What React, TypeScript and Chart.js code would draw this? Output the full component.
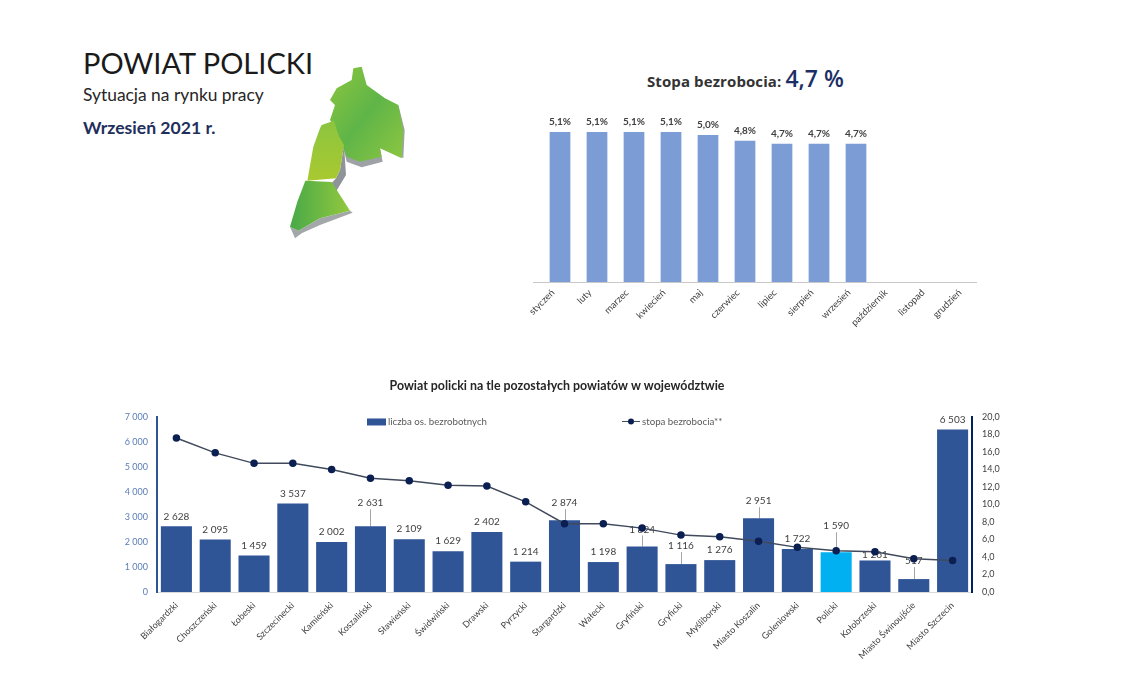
import React, { useEffect, useRef } from "react";
import { Chart, registerables } from "chart.js";

Chart.register(...registerables);

const months = ["styczeń", "luty", "marzec", "kwiecień", "maj", "czerwiec", "lipiec", "sierpień", "wrzesień", "październik", "listopad", "grudzień"];
const monthlyRate = [5.1, 5.1, 5.1, 5.1, 5.0, 4.8, 4.7, 4.7, 4.7, null, null, null];

const counties = ["Białogardzki", "Choszczeński", "Łobeski", "Szczecinecki", "Kamieński", "Koszaliński", "Sławieński", "Świdwiński", "Drawski", "Pyrzycki", "Stargardzki", "Wałecki", "Gryfiński", "Gryficki", "Myśliborski", "Miasto Koszalin", "Goleniowski", "Policki", "Kołobrzeski", "Miasto Świnoujście", "Miasto Szczecin"];
const unemployed = [2628, 2095, 1459, 3537, 2002, 2631, 2109, 1629, 2402, 1214, 2874, 1198, 1824, 1116, 1276, 2951, 1722, 1590, 1261, 517, 6503];
const rates = [17.6, 15.9, 14.7, 14.7, 14.0, 13.0, 12.7, 12.2, 12.1, 10.3, 7.8, 7.8, 7.3, 6.5, 6.3, 5.8, 5.1, 4.7, 4.6, 3.8, 3.6];
const highlighted = "Policki";
const leaderLift: Record<string, number> = {
  "Koszaliński": 23, "Stargardzki": 17, "Gryfiński": 17, "Gryficki": 18,
  "Miasto Koszalin": 17, "Policki": 26, "Miasto Świnoujście": 18, "Kołobrzeski": 6,
};
const noLeader = ["Kołobrzeski"];
const seriesBar = "liczba os. bezrobotnych";
const seriesLine = "stopa bezrobocia**";

const FONT = "Lato, sans-serif";
const thousands = (v: number) => String(v).replace(/\B(?=(\d{3})+$)/g, " ");
const decimal = (v: number) => v.toFixed(1).replace(".", ",");

const rateLabels = {
  id: "rateLabels",
  afterDatasetsDraw(chart: any) {
    const { ctx, scales } = chart;
    ctx.save();
    ctx.font = `bold 10px ${FONT}`;
    ctx.fillStyle = "#404040";
    ctx.textAlign = "center";
    ctx.textBaseline = "middle";
    monthlyRate.forEach((v, i) => {
      if (v == null) return;
      ctx.fillText(decimal(v) + "%", scales.x.getPixelForValue(i), scales.y.getPixelForValue(v) - 10);
    });
    const y = scales.y.bottom + 0.5;
    ctx.strokeStyle = "#c9c9c9";
    ctx.lineWidth = 1;
    ctx.beginPath();
    ctx.moveTo(scales.x.left - 8.5, y);
    ctx.lineTo(scales.x.right - 8.5, y);
    ctx.stroke();
    ctx.restore();
  },
};

const countyLabels = {
  id: "countyLabels",
  beforeDatasetsDraw(chart: any) {
    const { ctx, scales } = chart;
    ctx.save();
    ctx.textAlign = "center";
    ctx.textBaseline = "middle";
    ctx.font = `10px ${FONT}`;
    unemployed.forEach((v, i) => {
      const x = scales.x.getPixelForValue(i);
      const top = scales.y.getPixelForValue(v);
      const lift = leaderLift[counties[i]];
      if (lift && !noLeader.includes(counties[i])) {
        ctx.strokeStyle = "#a6a6a6";
        ctx.lineWidth = 1;
        ctx.beginPath();
        ctx.moveTo(Math.round(x) + 0.5, top - lift + 6);
        ctx.lineTo(Math.round(x) + 0.5, top);
        ctx.stroke();
      }
      ctx.fillStyle = "#404040";
      ctx.fillText(thousands(v), x, top - (lift || 10));
    });
    ctx.restore();
  },
  afterDraw(chart: any) {
    const { ctx, chartArea } = chart;
    const [line, bar] = chart.data.datasets;
    const y = chartArea.top + 4.5;
    ctx.save();
    ctx.font = `9.7px ${FONT}`;
    ctx.textBaseline = "middle";
    ctx.fillStyle = "#2f5597";
    ctx.fillRect(chartArea.left + 210, y - 3, 19, 7);
    ctx.fillStyle = "#595959";
    ctx.fillText(bar.label, chartArea.left + 231, y);
    ctx.strokeStyle = line.borderColor;
    ctx.lineWidth = 1;
    ctx.beginPath();
    ctx.moveTo(chartArea.left + 465, y);
    ctx.lineTo(chartArea.left + 483, y);
    ctx.stroke();
    ctx.fillStyle = line.pointBackgroundColor;
    ctx.beginPath();
    ctx.arc(chartArea.left + 474, y, 3, 0, Math.PI * 2);
    ctx.fill();
    ctx.fillStyle = "#595959";
    ctx.fillText(line.label, chartArea.left + 485, y);
    ctx.restore();
  },
};

const noPad = (h: number) => (s: any) => {
  s.height = h;
  s.paddingLeft = 0;
  s.paddingRight = 0;
};

function useChart(make: (c: HTMLCanvasElement) => Chart) {
  const ref = useRef<HTMLCanvasElement>(null);
  useEffect(() => {
    const chart = make(ref.current!);
    return () => chart.destroy();
  }, []);
  return ref;
}

const abs = (left: number, top: number, extra: React.CSSProperties = {}): React.CSSProperties => ({
  position: "absolute", left, top, whiteSpace: "nowrap", lineHeight: 1, ...extra,
});

function CountyMap() {
  const upper = "880,115 905,110 920,165 975,205 1015,225 1030,300 1025,385 960,355 965,380 900,395 860,380 845,340 820,285 810,270 825,225 810,210 830,175 875,150";
  const middle = "785,285 822,272 835,315 852,345 840,420 828,445 742,452 760,350 780,295";
  const lower = "736,452 815,456 870,542 780,565 715,602 690,590 712,515";
  const sideUpper = "1015,225 1034,300 1030,385 1000,365 960,355 968,395 905,412 860,395 848,345 900,380 1000,340";
  const sideMiddle = "852,345 858,435 825,490 805,470 828,445 840,420";
  const sideLower = "870,542 878,548 780,585 725,610 705,625 690,590 715,602 780,565";
  return (
    <svg style={{ position: "absolute", left: 60, top: 30 }} width={380} height={220} viewBox="0 0 1140 660">
      <defs>
        <linearGradient id="gu" x1="0" y1="0" x2="1" y2="1">
          <stop offset="0" stopColor="#8cc63f" /><stop offset="0.5" stopColor="#5fb548" /><stop offset="1" stopColor="#8ec641" />
        </linearGradient>
        <linearGradient id="gm" x1="0" y1="0" x2="0" y2="1">
          <stop offset="0" stopColor="#8cc540" /><stop offset="1" stopColor="#a9c92f" />
        </linearGradient>
        <linearGradient id="gl" x1="0" y1="0" x2="1" y2="0">
          <stop offset="0" stopColor="#48a948" /><stop offset="1" stopColor="#93c83e" />
        </linearGradient>
      </defs>
      <polygon points={sideUpper} fill="#9ea2a6" />
      <polygon points={sideMiddle} fill="#8f9498" />
      <polygon points={sideLower} fill="#a3a7aa" />
      <polygon points={upper} fill="url(#gu)" />
      <polygon points={middle} fill="url(#gm)" />
      <polygon points={lower} fill="url(#gl)" />
    </svg>
  );
}

export default function App() {
  const topRef = useChart((c) => new Chart(c, {
    type: "bar",
    data: { labels: months, datasets: [{ label: "stopa bezrobocia", data: monthlyRate, backgroundColor: "#7c9cd6", categoryPercentage: 0.56, barPercentage: 1 }] },
    options: {
      animation: false, responsive: false,
      layout: { padding: { left: 41.5, right: 14.5, top: 5.5, bottom: 0 } },
      plugins: { legend: { display: false }, tooltip: { enabled: false } },
      scales: {
        y: { display: false, min: 0, max: 6 },
        x: {
          afterFit: noPad(50),
          grid: { display: false, drawTicks: false }, border: { display: false },
          ticks: { minRotation: 45, maxRotation: 45, autoSkip: false, padding: 5, labelOffset: -7, color: "#404040", font: { family: FONT, size: 9.5 } },
        },
      },
    },
    plugins: [rateLabels],
  } as any));

  const bottomRef = useChart((c) => new Chart(c, {
    data: {
      labels: counties,
      datasets: [
        { type: "line", label: seriesLine, data: rates, yAxisID: "y2", order: 0, borderColor: "#404a5c", borderWidth: 1.5, pointBackgroundColor: "#0b1f52", pointBorderColor: "#0b1f52", pointRadius: 3, tension: 0 },
        { type: "bar", label: seriesBar, data: unemployed, yAxisID: "y", order: 1, backgroundColor: counties.map((n) => (n === highlighted ? "#00b0f0" : "#2f5597")), categoryPercentage: 0.8, barPercentage: 1 },
      ],
    },
    options: {
      animation: false, responsive: false,
      layout: { padding: 0 },
      plugins: {
        legend: { display: false }, tooltip: { enabled: false },
        title: { display: true, text: "Powiat policki na tle pozostałych powiatów w województwie", color: "#262626", font: { family: FONT, size: 12.4, weight: "bold" }, padding: { top: 6.5, bottom: 23.6 } },
      },
      scales: {
        x: {
          afterFit: noPad(78),
          grid: { display: false, drawTicks: false }, border: { color: "#d9d9d9" },
          ticks: { minRotation: 45, maxRotation: 45, autoSkip: false, padding: 8, color: "#404040", font: { family: FONT, size: 9 } },
        },
        y: {
          position: "left", min: 0, max: 7000,
          afterFit: (s: any) => { s.width = 57; },
          grid: { display: false, drawTicks: false }, border: { color: "#2f5597", width: 2 },
          ticks: { stepSize: 1000, padding: 9, color: "#5b7db8", font: { family: FONT, size: 9 }, callback: (v: any) => thousands(v) },
        },
        y2: {
          position: "right", min: 0, max: 20,
          afterFit: (s: any) => { s.width = 42; },
          grid: { display: false, drawTicks: false }, border: { color: "#002060", width: 2 },
          ticks: { stepSize: 2, padding: 10, color: "#404040", font: { family: FONT, size: 9 }, callback: (v: any) => decimal(v) },
        },
      },
    },
    plugins: [countyLabels],
  } as any));

  return (
    <div style={{ position: "absolute", left: 0, top: 0, width: 1140, height: 676, overflow: "hidden", background: "#fff", fontFamily: FONT }}>
      <div style={abs(83, 48, { fontSize: 29, color: "#1a1a1a" })}>POWIAT POLICKI</div>
      <div style={abs(83, 86, { fontSize: 17.4, color: "#262626" })}>Sytuacja na rynku pracy</div>
      <div style={abs(83, 119, { fontSize: 17.6, fontWeight: 700, color: "#1f2f5c" })}>Wrzesień 2021 r.</div>
      <CountyMap />
      <div style={abs(647, 67, { fontFamily: "'Open Sans', sans-serif", fontWeight: 700, color: "#333", fontSize: 15, height: 26, display: "flex", alignItems: "baseline", letterSpacing: 0.1 })}>
        Stopa bezrobocia:
        <span style={{ fontSize: 23, fontWeight: 600, color: "#1b2f66", marginLeft: 4, letterSpacing: 0 }}>4,7 %</span>
      </div>
      <canvas ref={topRef} width={500} height={232} style={{ position: "absolute", left: 500, top: 100, width: 500, height: 232 }} />
      <canvas ref={bottomRef} width={914} height={298} style={{ position: "absolute", left: 100, top: 372, width: 914, height: 298 }} />
    </div>
  );
}
